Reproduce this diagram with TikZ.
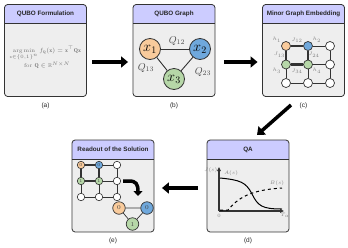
\documentclass[tikz,border=0pt]{standalone}
\usepackage{amsmath,amssymb}
\usepackage{fontspec}
\newfontfamily\hv{Liberation Sans}
\usetikzlibrary{arrows.meta,calc}
\definecolor{hdrfill}{HTML}{CCCCFF}
\definecolor{bodygray}{HTML}{EEEEEE}
\definecolor{bordc}{HTML}{333333}
\definecolor{orangefill}{HTML}{F9CB9C}
\definecolor{bluefill}{HTML}{6FA8DC}
\definecolor{greenfill}{HTML}{B6D7A8}
\newcommand\drawpanel[5]{%
  \node[panelbox] (#1) at (#2,#3) {};
  \begin{scope}
    \clip[rounded corners=3pt] (#1.south west) rectangle (#1.north east);
    \fill[hdrfill] (#1.north west) rectangle ($(#1.north east)+(0,19)$);
  \end{scope}
  \draw[border] ($(#1.north west)+(0,19)$) -- ($(#1.north east)+(0,19)$);
  \draw[border, rounded corners=3pt] (#1.south west) rectangle (#1.north east);
  \node[ttl] (#1title) at ($(#1.north)+(0,9.5)$) {#4};
  \node[sublab] (#1cap) at ($(#1.south)+(0,9)$) {#5};
}
\begin{document}
\begin{tikzpicture}[x=1pt,y=-1pt,
  panelbox/.style={fill=bodygray, minimum width=81.5pt, minimum height=91.5pt, inner sep=0pt, rounded corners=3pt},
  border/.style={draw=bordc, line width=0.8pt},
  ttl/.style={font=\hv\bfseries\fontsize{6.3}{7}\selectfont, text=black!85, inner sep=0pt},
  sublab/.style={font=\hv\fontsize{6.5}{7}\selectfont, text=black!85, inner sep=0pt},
  bigarrow/.style={line width=3.5pt, -{Triangle[length=7pt,width=11pt]}},
  qnode/.style={circle, draw=bordc, line width=0.8pt, minimum size=21pt, inner sep=0pt, font=\fontsize{14}{14}\selectfont},
  qedge/.style={draw=bordc, line width=0.9pt},
  qlab/.style={font=\fontsize{10}{11}\selectfont, text=black!70, inner sep=0pt},
  gnode/.style={circle, draw=bordc, line width=0.7pt, minimum size=9pt, inner sep=0pt, fill=white},
  enode/.style={circle, draw=bordc, line width=0.6pt, minimum size=7.5pt, inner sep=0pt, fill=white, font=\fontsize{4.5}{5}\selectfont, text=black!75},
  tnode/.style={circle, draw=bordc, line width=0.7pt, minimum size=12.5pt, inner sep=0pt, font=\fontsize{6}{6}\selectfont, text=black!75},
  thinedge/.style={draw=bordc, line width=0.7pt},
  thickedge/.style={draw=bordc, line width=1.5pt},
  chainedge/.style={draw=bordc, line width=2.4pt},
  tinylab/.style={font=\fontsize{4.3}{5}\selectfont, text=black!50, inner sep=0pt},
  formula/.style={font=\fontsize{5.6}{6.5}\selectfont, text=black!55, inner sep=0pt},
  axisline/.style={draw=bordc, line width=1.1pt, -{Triangle[length=4pt,width=3.5pt]}}
]
\useasboundingbox (0,0) rectangle (348,247);

% panels
\drawpanel{pa}{45.5}{50.5}{QUBO Formulation}{(a)}
\drawpanel{pb}{174}{50.5}{QUBO Graph}{(b)}
\drawpanel{pc}{303.5}{50.5}{Minor Graph Embedding}{(c)}
\drawpanel{pd}{248}{186}{QA}{(d)}
\drawpanel{pe}{113}{186}{Readout of the Solution}{(e)}

% (a) formula
\node[formula] (fa1) at (45.5,53) {$\displaystyle\operatorname*{arg\,min}_{\mathbf{x}\in\{0,1\}^n} f_{\mathbf{Q}}(\mathbf{x}) = \mathbf{x}^{\top}\mathbf{Q}\mathbf{x}$};
\node[formula] (fa2) at (47,65.5) {for $\mathbf{Q}\in\mathbb{R}^{N\times N}$};

% (b) QUBO graph
\node[qnode, fill=orangefill] (x1) at (150,49) {$x_1$};
\node[qnode, fill=bluefill] (x2) at (200,49) {$x_2$};
\node[qnode, fill=greenfill] (x3) at (174,79) {$x_3$};
\draw[qedge] (x1) -- (x2);
\draw[qedge] (x1) -- (x3);
\draw[qedge] (x2) -- (x3);
\node[qlab] (q12) at (177,41) {$Q_{12}$};
\node[qlab] (q13) at (146,68) {$Q_{13}$};
\node[qlab] (q23) at (203,72) {$Q_{23}$};

% (c) embedding grid
\node[gnode, fill=orangefill] (c11) at (286,46) {};
\node[gnode, fill=bluefill] (c12) at (308,46) {};
\node[gnode] (c13) at (330,46) {};
\node[gnode, fill=greenfill] (c21) at (286,64.5) {};
\node[gnode, fill=greenfill] (c22) at (308,64.5) {};
\node[gnode] (c23) at (330,64.5) {};
\node[gnode] (c31) at (286,83) {};
\node[gnode] (c32) at (308,83) {};
\node[gnode] (c33) at (330,83) {};
\draw[thinedge] (c12) -- (c13) (c22) -- (c23) (c31) -- (c32) (c32) -- (c33)
  (c13) -- (c23) (c23) -- (c33) (c21) -- (c31) (c22) -- (c32);
\draw[thickedge] (c11) -- (c12) (c11) -- (c21) (c12) -- (c22);
\draw[chainedge] (c21) -- (c22);
\node[tinylab] (h1) at (277,40) {$h_1$};
\node[tinylab] (j12) at (297,40.5) {$J_{12}$};
\node[tinylab] (h2) at (317,40) {$h_2$};
\node[tinylab] (j13) at (279.5,55) {$J_{13}$};
\node[tinylab] (j24) at (314,55) {$J_{24}$};
\node[tinylab] (h3) at (277,71) {$h_3$};
\node[tinylab] (j34) at (297,71.5) {$J_{34}$};
\node[tinylab] (h4) at (317,71) {$h_4$};

% (d) annealing schedule
\coordinate (o) at (219,211);
\coordinate (ytop) at (219,167);
\coordinate (xend) at (284,211);
\draw[axisline] (o) -- (ytop);
\draw[axisline] (o) -- (xend);
\draw[draw=black, line width=1pt] (220,178) .. controls (240,180) and (246,182) .. (252,194)
  .. controls (258,206) and (262,209) .. (282,209);
\draw[draw=black, line width=1pt, dashed] (220,210) -- (228,210) .. controls (238,198) and (250,190) .. (282,188);
\node[tinylab] (la) at (231,173.5) {$A(s)$};
\node[tinylab] (lb) at (277,183) {$B(s)$};
\node[tinylab, anchor=east] (ly) at (217.5,170) {$J(s)$};
\node[tinylab] (l0) at (219,216) {$0$};
\node[tinylab] (lt) at (285,215.5) {$T_a$};

% (e) readout
\node[enode, fill=orangefill] (e11) at (81,165) {0};
\node[enode, fill=bluefill] (e12) at (99,165) {0};
\node[enode] (e13) at (117,165) {};
\node[enode, fill=greenfill] (e21) at (81,181) {1};
\node[enode, fill=greenfill] (e22) at (99,181) {1};
\node[enode] (e23) at (117,181) {};
\node[enode] (e31) at (81,197) {};
\node[enode] (e32) at (99,197) {};
\node[enode] (e33) at (117,197) {};
\draw[thinedge] (e12) -- (e13) (e22) -- (e23) (e31) -- (e32) (e32) -- (e33)
  (e13) -- (e23) (e23) -- (e33) (e21) -- (e31) (e22) -- (e32);
\draw[thickedge] (e11) -- (e12) (e11) -- (e21) (e12) -- (e22) (e21) -- (e22);
\coordinate (ca) at (123,181);
\coordinate (cb) at (138,196);
\draw[line width=3.5pt, -{Triangle[length=5pt,width=9pt]}] (ca) -- (129,181) .. controls (136,181) and (138,184) .. (cb);
\node[tnode, fill=orangefill] (t1) at (119,208) {0};
\node[tnode, fill=bluefill] (t2) at (147,208) {0};
\node[tnode, fill=greenfill] (t3) at (132.5,224) {1};
\draw[thinedge] (t1) -- (t2) (t1) -- (t3) (t2) -- (t3);

% big arrows between panels
\draw[bigarrow] (pa.east |- 0,62) ++(6,0) -- ($(pb.west |- 0,62)+(-5,0)$);
\draw[bigarrow] ($(pb.east |- 0,62)+(9,0)$) -- ($(pc.west |- 0,62)+(-5,0)$);
\draw[bigarrow] (291,105) -- (257,135);
\draw[bigarrow] ($(pd.west |- 0,188)+(-9,0)$) -- ($(pe.east |- 0,188)+(8,0)$);
\end{tikzpicture}
\end{document}
